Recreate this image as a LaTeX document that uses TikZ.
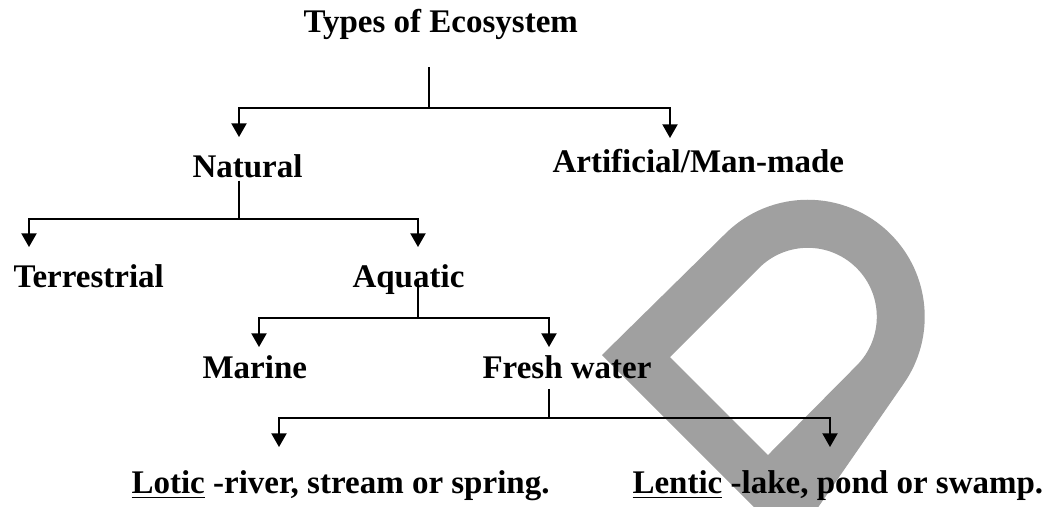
\documentclass[tikz,border=0pt]{standalone}
\usepackage{fontspec}
\setmainfont{Liberation Serif}
\usetikzlibrary{arrows.meta}
\definecolor{markgrey}{RGB}{160,160,160}

\begin{document}
\begin{tikzpicture}[x=0.3636pt, y=-0.3636pt,
    term/.style={font=\fontsize{12}{14}\selectfont\bfseries, inner sep=0pt, anchor=base west},
    link/.style={line width=0.7pt},
    branch/.style={link, -{Triangle[length=5pt, width=5.5pt]}}]
    \useasboundingbox (0,0) rectangle (1048,506);

    % grey mark behind the tree
    \begin{scope}
        \clip (0,0) rectangle (1048,506);
        \fill[markgrey, even odd rule]
            (602,355) -- (725,234) arc[start angle=-135, end angle=35, radius=117] -- (792,545) -- cycle
            (670,357) -- (759,268) arc[start angle=-135, end angle=45, radius=69] -- (768,455) -- cycle;
    \end{scope}

    \node[term] (types) at (303,32) {Types of Ecosystem};
    \node[term] (natural) at (192,177) {Natural};
    \node[term] (artificial) at (552,172) {Artificial/Man-made};
    \node[term] (terrestrial) at (13,287) {Terrestrial};
    \node[term] (aquatic) at (352,287) {Aquatic};
    \node[term] (marine) at (202,378) {Marine};
    \node[term] (fresh) at (482,378) {Fresh water};
    \node[term] (lotic) at (131,493) {\underline{Lotic} -river, stream or spring.};
    \node[term] (lentic) at (632,493) {\underline{Lentic} -lake, pond or swamp.};

    % junctions and arrow tips
    \coordinate (types-j) at (429,108);
    \coordinate (natural-j) at (239,219);
    \coordinate (aquatic-j) at (418,318);
    \coordinate (fresh-j) at (549,418);
    \coordinate (natural-in) at (239,137);
    \coordinate (artificial-in) at (670,138);
    \coordinate (terrestrial-in) at (29,247);
    \coordinate (aquatic-in) at (418,247);
    \coordinate (marine-in) at (259,347);
    \coordinate (fresh-in) at (549,347);
    \coordinate (lotic-in) at (279,447);
    \coordinate (lentic-in) at (830,447);

    \draw[link, shorten <=10pt] (types.south -| types-j) -- (types-j);
    \draw[branch] (types-j) -| (natural-in);
    \draw[branch] (types-j) -| (artificial-in);

    \draw[link, shorten <=1pt] (natural.south -| natural-j) -- (natural-j);
    \draw[branch] (natural-j) -| (terrestrial-in);
    \draw[branch] (natural-j) -| (aquatic-in);

    \draw[link, shorten <=-2.5pt] (aquatic.base -| aquatic-j) -- (aquatic-j);
    \draw[branch] (aquatic-j) -| (marine-in);
    \draw[branch] (aquatic-j) -| (fresh-in);

    \draw[link, shorten <=3.6pt] (fresh.south -| fresh-j) -- (fresh-j);
    \draw[branch] (fresh-j) -| (lotic-in);
    \draw[branch] (fresh-j) -| (lentic-in);
\end{tikzpicture}
\end{document}
